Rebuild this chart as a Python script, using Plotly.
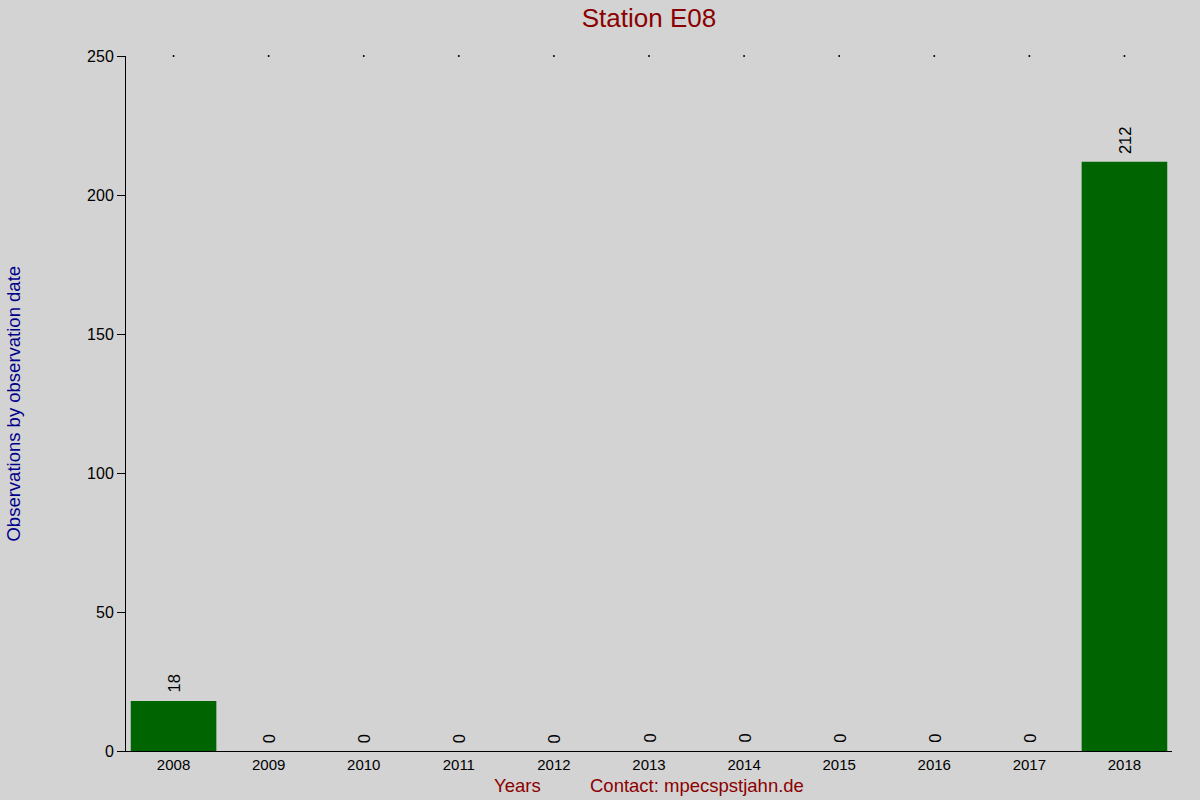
import plotly.graph_objects as go

years = [str(y) for y in range(2008, 2019)]
counts = [18, 0, 0, 0, 0, 0, 0, 0, 0, 0, 212]
y_ticks = [0, 50, 100, 150, 200, 250]
y_top = 250

fig = go.Figure()
fig.add_trace(go.Bar(
    x=years, y=counts,
    marker=dict(color='#006400', line=dict(width=0)),
    showlegend=False))
# little dots along the top edge
fig.add_trace(go.Scatter(
    x=years, y=[y_top] * len(years),
    mode='markers',
    marker=dict(size=2, color='black'),
    cliponaxis=False,
    showlegend=False, hoverinfo='skip'))

# value labels, rotated, sitting a little above each bar
# (category axis -> annotations take the category index)
for i, c in enumerate(counts):
    fig.add_annotation(x=i, y=c, text=str(c), textangle=-90,
                       xanchor='center', yanchor='bottom', yshift=6,
                       showarrow=False, font=dict(size=16.5, color='black'))

fig.update_layout(
    width=1200, height=800,
    paper_bgcolor='#d3d3d3', plot_bgcolor='#d3d3d3',
    margin=dict(l=126, r=28, t=56, b=49),
    bargap=0.1,
    font=dict(family='Liberation Sans, Arial, sans-serif', size=15, color='black'),
    title=dict(text='Station E08', x=649 / 1200, xanchor='center',
               y=1 - 18 / 800, yanchor='middle',
               font=dict(size=26, color='#8b0000')),
    xaxis=dict(type='category', range=[-0.5, 10.5], showline=True,
               linecolor='black', linewidth=1, ticks='', showgrid=False,
               zeroline=False, tickfont=dict(size=15)),
    yaxis=dict(range=[0, y_top], tickvals=y_ticks, showline=True,
               linecolor='black', linewidth=1, ticks='outside', ticklen=8,
               tickcolor='black', showgrid=False, zeroline=False,
               tickfont=dict(size=16)),
)
fig.add_annotation(text='Observations by observation date', textangle=-90,
                   xref='paper', yref='paper', x=-0.108, y=0.5,
                   xanchor='center', yanchor='middle', showarrow=False,
                   font=dict(size=18.5, color='#00008b'))
fig.add_annotation(text='Years', xref='paper', yref='paper', x=0.374, y=-0.05,
                   xanchor='center', yanchor='middle', showarrow=False,
                   font=dict(size=18.5, color='#8b0000'))
fig.add_annotation(text='Contact: mpecspstjahn.de', xref='paper', yref='paper',
                   x=0.546, y=-0.05, xanchor='center', yanchor='middle',
                   showarrow=False, font=dict(size=18.5, color='#8b0000'))

fig.write_html('out.html', config={'displayModeBar': False},
               post_script="document.body.style.margin='0';")
